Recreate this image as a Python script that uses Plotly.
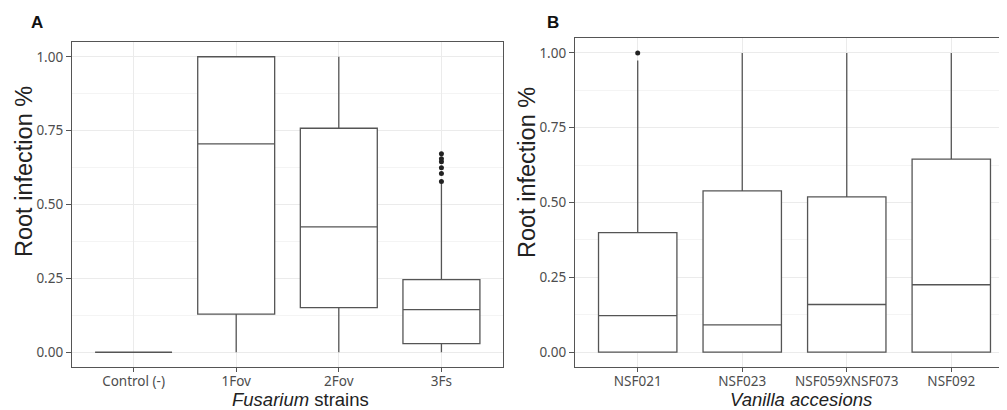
import plotly.graph_objects as go

# Panel A data
cat_a = ["Control (-)", "1Fov", "2Fov", "3Fs"]
q1_a = [0.0, 0.129, 0.151, 0.029]
med_a = [0.0, 0.705, 0.424, 0.144]
q3_a = [0.0, 1.0, 0.758, 0.246]
lo_a = [0.0, 0.0, 0.0, 0.0]
hi_a = [0.0, 1.0, 1.0, 0.572]
out_a_x = ["3Fs"] * 6
out_a_y = [0.578, 0.605, 0.624, 0.645, 0.655, 0.672]

# Panel B data
cat_b = ["NSF021", "NSF023", "NSF059XNSF073", "NSF092"]
q1_b = [0.0, 0.0, 0.0, 0.0]
med_b = [0.122, 0.091, 0.159, 0.225]
q3_b = [0.399, 0.539, 0.519, 0.645]
lo_b = [0.0, 0.0, 0.0, 0.0]
hi_b = [0.975, 1.0, 1.0, 1.0]
out_b_x = ["NSF021"]
out_b_y = [1.0]

yticks = [0.0, 0.25, 0.5, 0.75, 1.0]
yticklabels = ["0.00", "0.25", "0.50", "0.75", "1.00"]

W, H = 1007, 410
LINE = "#555555"
GRID = "#ebebeb"
TICKFONT = dict(family="Noto Sans", size=13.5, color="#4d4d4d")
TITLEFONT = "Liberation Sans"

fig = go.Figure()

box_style = dict(
    fillcolor="white",
    line=dict(color=LINE, width=1.3),
    whiskerwidth=0,
    width=0.75,
    boxpoints=False,
    showlegend=False,
    hoverinfo="skip",
)

fig.add_trace(go.Box(x=cat_a, q1=q1_a, median=med_a, q3=q3_a,
                     lowerfence=lo_a, upperfence=hi_a,
                     xaxis="x", yaxis="y", **box_style))
fig.add_trace(go.Scatter(x=out_a_x, y=out_a_y, mode="markers",
                         marker=dict(color="#222222", size=5),
                         xaxis="x", yaxis="y", showlegend=False))
fig.add_trace(go.Box(x=cat_b, q1=q1_b, median=med_b, q3=q3_b,
                     lowerfence=lo_b, upperfence=hi_b,
                     xaxis="x2", yaxis="y2", **box_style))
fig.add_trace(go.Scatter(x=out_b_x, y=out_b_y, mode="markers",
                         marker=dict(color="#222222", size=5),
                         xaxis="x2", yaxis="y2", showlegend=False))

def xaxis(domain, cats, anchor):
    return dict(
        domain=domain, anchor=anchor, type="category",
        categoryorder="array", categoryarray=cats,
        range=[-0.6, len(cats) - 0.4],
        showgrid=True, gridcolor=GRID, gridwidth=1,
        showline=True, linecolor=LINE, linewidth=1.2, mirror=True,
        ticks="outside", ticklen=4, tickcolor=LINE,
        ticklabelstandoff=-2,
        tickfont=TICKFONT,
        zeroline=False, fixedrange=True,
    )

def yaxis(domain, anchor):
    return dict(
        domain=domain, anchor=anchor,
        range=[-0.05, 1.05],
        tickvals=yticks, ticktext=yticklabels,
        showgrid=True, gridcolor=GRID, gridwidth=1,
        minor=dict(tickvals=[0.125, 0.375, 0.625, 0.875], showgrid=True,
                   gridcolor="#f4f4f4", gridwidth=1),
        showline=True, linecolor=LINE, linewidth=1.2, mirror=True,
        ticks="outside", ticklen=5, tickcolor=LINE,
        tickfont=TICKFONT,
        zeroline=False, fixedrange=True,
    )

def ann(text, x, y, size, angle=0, color="#222222"):
    return dict(text=text, x=x / W, y=1 - y / H, xref="paper", yref="paper",
                xanchor="center", yanchor="middle", showarrow=False,
                textangle=angle,
                font=dict(family=TITLEFONT, size=size, color=color))

bottom = 1 - 359 / H
fig.update_layout(
    width=W, height=H,
    margin=dict(l=0, r=0, t=0, b=0),
    paper_bgcolor="white", plot_bgcolor="white",
    xaxis=xaxis([64 / W, 495 / W], cat_a, "y"),
    yaxis=yaxis([bottom, 1 - 34 / H], "x"),
    xaxis2=xaxis([567 / W, 1006 / W], cat_b, "y2"),
    yaxis2=yaxis([bottom, 1 - 30 / H], "x2"),
    annotations=[
        ann("<b>A</b>", 29, 14, 17, color="#111111"),
        ann("<b>B</b>", 545, 14, 17, color="#111111"),
        ann("Root infection %", 16, 164, 23.5, angle=-90),
        ann("Root infection %", 519, 165, 23.5, angle=-90),
        ann("<i>Fusarium</i> strains", 292, 391, 18.5),
        ann("<i>Vanilla accesions</i>", 793, 391.5, 18.5),
    ],
)

fig.write_html("out.html")
